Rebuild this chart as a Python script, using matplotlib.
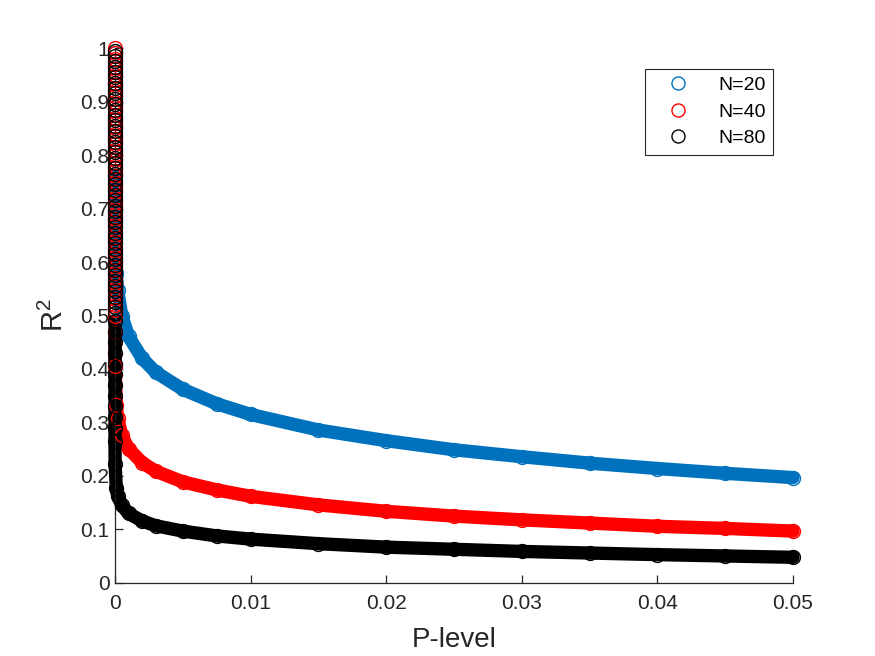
import matplotlib
matplotlib.use("Agg")
import matplotlib.pyplot as plt
from matplotlib.lines import Line2D
import numpy as np

plt.rcParams['font.family'] = ['Liberation Sans', 'DejaVu Sans']
plt.rcParams['mathtext.fontset'] = 'custom'
plt.rcParams['mathtext.rm'] = 'Liberation Sans'
plt.rcParams['mathtext.it'] = 'Liberation Sans'
plt.rcParams['mathtext.default'] = 'regular'

# ---- data ----
series_labels = ["N=20", "N=40", "N=80"]

# N=20 : vertical stack at p~0, then the decaying tail
p_20 = [0, 0, 0, 0, 0, 0, 0, 0, 0, 0, 0,
        0.000001, 0.00001, 0.0001, 0.0002, 0.0005, 0.001, 0.002, 0.003, 0.005,
        0.0075, 0.01, 0.015, 0.02, 0.025, 0.03, 0.035, 0.04, 0.045, 0.05]
r2_20 = [0.99, 0.97, 0.95, 0.93, 0.91, 0.89, 0.87, 0.85, 0.83, 0.81, 0.79,
         0.76, 0.68, 0.58, 0.547, 0.50, 0.461, 0.420, 0.394, 0.362,
         0.335, 0.315, 0.286, 0.266, 0.249, 0.236, 0.224, 0.214, 0.205, 0.197]

# N=40
p_40 = [0, 0, 0, 0, 0, 0, 0, 0, 0, 0,
        0, 0, 0, 0, 0, 0, 0, 0, 0, 0,
        0, 0, 0, 0, 0, 0, 0, 0, 0, 0,
        0, 0, 0, 0, 0, 0, 0, 0, 0, 0,
        0, 0, 0, 0, 0, 0, 0, 0, 0, 0, 0,
        0.000001, 0.00001, 0.0001, 0.0002, 0.0005, 0.001, 0.002, 0.003, 0.005,
        0.0075, 0.01, 0.015, 0.02, 0.025, 0.03, 0.035, 0.04, 0.045, 0.05]
r2_40 = [1.00, 0.99, 0.98, 0.97, 0.96, 0.95, 0.94, 0.93, 0.92, 0.91,
         0.90, 0.89, 0.88, 0.87, 0.86, 0.85, 0.84, 0.83, 0.82, 0.81,
         0.80, 0.79, 0.78, 0.77, 0.76, 0.75, 0.74, 0.73, 0.72, 0.71,
         0.70, 0.69, 0.68, 0.67, 0.66, 0.65, 0.64, 0.63, 0.62, 0.61,
         0.60, 0.59, 0.58, 0.57, 0.56, 0.55, 0.54, 0.53, 0.52, 0.51, 0.50,
         0.47, 0.405, 0.332, 0.308, 0.276, 0.251, 0.225, 0.209, 0.189,
         0.174, 0.162, 0.146, 0.134, 0.125, 0.118, 0.112, 0.106, 0.102, 0.097]

# N=80
p_80 = [0, 0, 0, 0, 0, 0, 0, 0, 0, 0,
        0, 0, 0, 0, 0, 0, 0, 0, 0, 0,
        0, 0, 0, 0, 0, 0, 0, 0, 0, 0,
        0, 0, 0, 0, 0, 0, 0, 0, 0, 0,
        0, 0, 0, 0, 0, 0, 0, 0, 0, 0,
        0, 0, 0, 0, 0, 0, 0, 0, 0, 0, 0,
        0.000001, 0.00001, 0.0001, 0.0002, 0.0005, 0.001, 0.002, 0.003, 0.005,
        0.0075, 0.01, 0.015, 0.02, 0.025, 0.03, 0.035, 0.04, 0.045, 0.05]
r2_80 = [0.995, 0.985, 0.975, 0.965, 0.955, 0.945, 0.935, 0.925, 0.915, 0.905,
         0.895, 0.885, 0.875, 0.865, 0.855, 0.845, 0.835, 0.825, 0.815, 0.805,
         0.795, 0.785, 0.775, 0.765, 0.755, 0.745, 0.735, 0.725, 0.715, 0.705,
         0.695, 0.685, 0.675, 0.665, 0.655, 0.645, 0.635, 0.625, 0.615, 0.605,
         0.595, 0.585, 0.575, 0.565, 0.555, 0.545, 0.535, 0.525, 0.515, 0.505,
         0.49, 0.47, 0.45, 0.43, 0.41, 0.39, 0.37, 0.35, 0.33, 0.31, 0.29,
         0.266, 0.222, 0.177, 0.163, 0.145, 0.130, 0.116, 0.107, 0.097,
         0.088, 0.082, 0.0735, 0.067, 0.063, 0.059, 0.056, 0.053, 0.0505, 0.048]

x_ticks = [0, 0.01, 0.02, 0.03, 0.04, 0.05]
x_tick_labels = ["0", "0.01", "0.02", "0.03", "0.04", "0.05"]
y_ticks = [0, 0.1, 0.2, 0.3, 0.4, 0.5, 0.6, 0.7, 0.8, 0.9, 1.0]
y_tick_labels = ["0", "0.1", "0.2", "0.3", "0.4", "0.5", "0.6", "0.7", "0.8", "0.9", "1"]

colors = ["#0072BD", "#FF0000", "#000000"]

# ---- figure ----
fig = plt.figure(figsize=(8.75, 6.56), dpi=100)
ax = fig.add_axes([0.1314, 0.1113, 0.7749, 0.8155])

ms = 10.0
for p, r2, c in zip([p_20, p_40, p_80], [r2_20, r2_40, r2_80], colors):
    p = np.asarray(p, float)
    r2 = np.asarray(r2, float)
    solid = (p > 0) | (r2 < 0.5)
    ax.plot(p[solid], r2[solid], '-', color=c, lw=9.6, solid_capstyle='round',
            solid_joinstyle='round', clip_on=False, zorder=2)
    ax.plot(p, r2, 'o', mfc='none', mec=c, ms=ms, mew=1.0, ls='none',
            clip_on=False, zorder=3)

ax.set_xlim(0, 0.05)
ax.set_ylim(0, 1)
ax.set_xticks(x_ticks)
ax.set_xticklabels(x_tick_labels)
ax.set_yticks(y_ticks)
ax.set_yticklabels(y_tick_labels)

for s in ['top', 'right']:
    ax.spines[s].set_visible(False)
for s in ['left', 'bottom']:
    ax.spines[s].set_color('#262626')
    ax.spines[s].set_linewidth(0.9)
ax.tick_params(direction='in', length=6, width=0.9, colors='#262626',
               labelsize=15, labelcolor='#262626')
ax.tick_params(axis='x', pad=8)
ax.tick_params(axis='y', pad=4)

ax.set_xlabel("P-level", fontsize=20, color='#262626', labelpad=10)
ax.set_ylabel("R$^2$", fontsize=21, color='#262626', labelpad=8)

handles = [Line2D([], [], marker='o', ls='none', mfc='none', mec=c, ms=9.4, mew=1.0)
           for c in colors]
leg = ax.legend(handles, series_labels, loc='upper right',
                bbox_to_anchor=(0.9705, 0.9607), borderaxespad=0,
                fontsize=14, frameon=True, fancybox=False, framealpha=1,
                edgecolor='#262626', handletextpad=0.75, handlelength=2.62,
                borderpad=0.39, labelspacing=0.45)
leg.get_frame().set_linewidth(0.8)
for t in leg.get_texts():
    t.set_color('#000000')

fig.savefig("out.png", dpi=100, facecolor='white')
